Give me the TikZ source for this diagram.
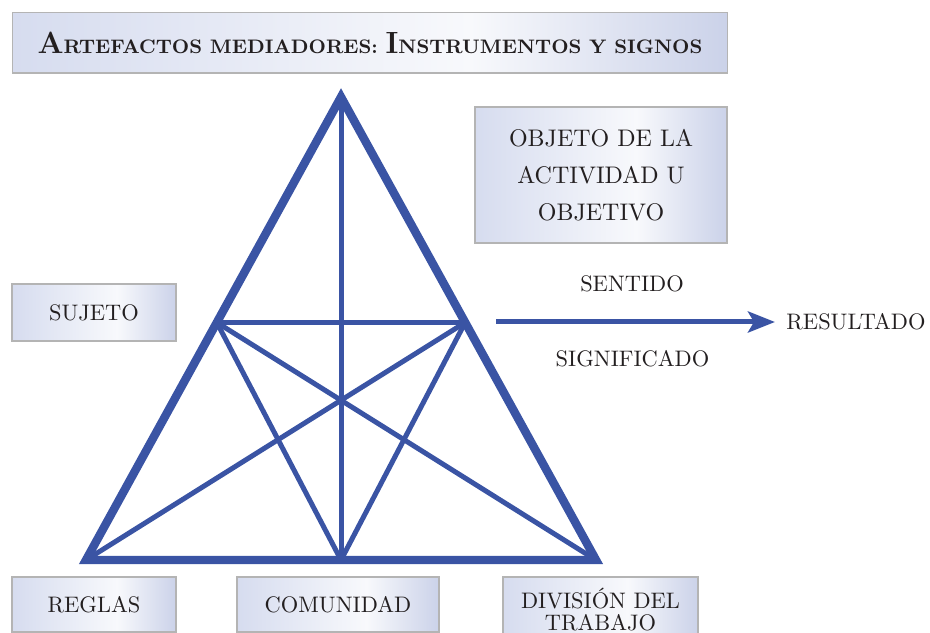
\documentclass[tikz,border=0pt]{standalone}
\usetikzlibrary{arrows.meta,calc}
\definecolor{triblue}{HTML}{3A54A4}
\definecolor{boxL}{HTML}{D6DCEF}
\definecolor{boxM}{HTML}{F8F9FC}
\definecolor{boxR}{HTML}{CBD2E9}
\definecolor{boxline}{HTML}{B4B4B4}
\definecolor{ink}{HTML}{231F20}
\pgfdeclarehorizontalshading{boxgrad}{100bp}{color(0bp)=(boxL); color(25bp)=(boxL); color(57bp)=(boxM); color(75bp)=(boxR); color(100bp)=(boxR)}
\newcommand\ttlbig[1]{{\fontsize{13.8pt}{16pt}\selectfont #1}}
\newcommand\ttlsmall[1]{{\fontsize{8.8pt}{10pt}\selectfont #1}}
\tikzset{
  labelbox/.style={rectangle, draw=boxline, line width=0.7pt, shade, shading=boxgrad, inner sep=0pt, text=ink, align=center, font=\fontsize{10.1pt}{9.9pt}\selectfont},
  plainlbl/.style={inner sep=0pt, text=ink, font=\fontsize{10.1pt}{12pt}\selectfont},
  outerline/.style={draw=triblue, line width=3.8pt, line join=miter},
  innerline/.style={draw=triblue, line width=2.25pt},
}
\begin{document}
\begin{tikzpicture}[x=0.45pt,y=-0.45pt]
\useasboundingbox (0,0) rectangle (930,633);

% boxes
\node[labelbox, minimum width=321.75pt, minimum height=27.2pt] (title) at (370,42.75)
  {\bfseries\ttlbig{A}\ttlsmall{RTEFACTOS MEDIADORES: }\ttlbig{I}\ttlsmall{NSTRUMENTOS Y SIGNOS}};
\node[labelbox, minimum width=73.8pt, minimum height=25.65pt] (sujeto) at (94,312.5) {SUJETO};
\node[labelbox, minimum width=113.4pt, minimum height=61.2pt, font=\fontsize{10.8pt}{16.65pt}\selectfont] (objeto) at (601,175)
  {OBJETO DE LA\\ACTIVIDAD U\\OBJETIVO};
\node[labelbox, minimum width=73.8pt, minimum height=24.75pt] (reglas) at (94,604.5) {REGLAS};
\node[labelbox, minimum width=90.9pt, minimum height=24.75pt] (comunidad) at (338,604.5) {COMUNIDAD};
\node[labelbox, minimum width=87.75pt, minimum height=29.7pt] (division) at (600.5,610) {DIVISIÓN DEL\\TRABAJO};

% labels
\node[plainlbl] (sentido) at (632,284) {SENTIDO};
\node[plainlbl] (significado) at (632.5,358.5) {SIGNIFICADO};
\node[plainlbl, anchor=west] (resultado) at (786,322) {RESULTADO};

% triangle
\coordinate (A) at (341,97);
\coordinate (L) at (86,560);
\coordinate (R) at (596,560);
\coordinate (M) at (341,560);
\coordinate (P) at ($(A)!0.487!(L)$);
\coordinate (Q) at ($(A)!0.487!(R)$);

\draw[innerline] (P) -- (Q);
\draw[innerline] (A) -- (M);
\draw[innerline] (P) -- (M);
\draw[innerline] (P) -- (R);
\draw[innerline] (Q) -- (L);
\draw[innerline] (Q) -- (M);
\draw[outerline] (A) -- (L) -- (R) -- cycle;

% arrow
\coordinate (as) at (496,322);
\draw[draw=triblue, line width=2.25pt, -{Stealth[length=12.15pt, width=9.45pt, inset=2.7pt]}, shorten >=4.95pt] (as) -- (resultado);
\end{tikzpicture}
\end{document}
